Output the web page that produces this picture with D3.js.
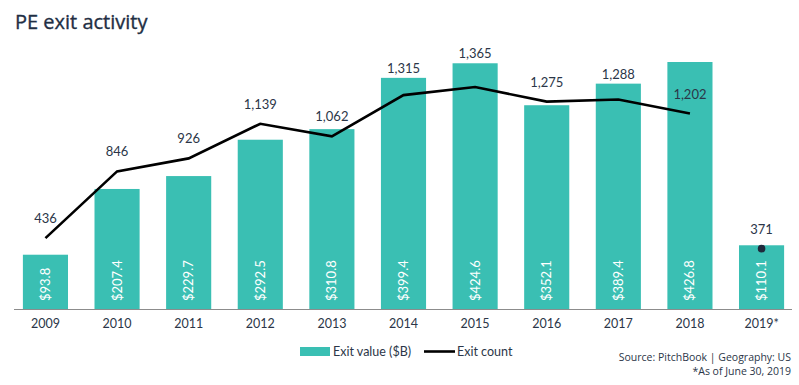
<!doctype html>
<html lang="en">
<head>
    <meta charset="utf-8">
    <title>PE exit activity</title>
    <style>
        body { margin: 0; background: #fff; }
        svg { display: block; }
        text { font-family: Lato, "Open Sans", sans-serif; fill: #2b3648; }
        .title { font-family: "Open Sans", sans-serif; font-size: 20px; font-weight: 400; fill: #1f2f44; stroke: #1f2f44; stroke-width: 0.35px; }
    </style>
</head>
<body>
    <div id="chart"></div>
    <script src="https://d3js.org/d3.v7.min.js"></script>
    <script>
        var years = ["2009", "2010", "2011", "2012", "2013", "2014", "2015", "2016", "2017", "2018", "2019*"]
        var exitValue = [93.8, 207.4, 229.7, 292.5, 310.8, 399.4, 424.6, 352.1, 389.4, 426.8, 110.1]
        var exitCount = [436, 846, 926, 1139, 1062, 1315, 1365, 1275, 1288, 1202, 371]

        var width = 799
        var height = 385
        var baseY = 309

        var svg = d3.select("#chart").append("svg")
            .attr("width", width)
            .attr("height", height)

        svg.append("text")
            .attr("class", "title")
            .attr("x", 15)
            .attr("y", 29)
            .text("PE exit activity")

        var x = d3.scaleBand()
            .domain(years)
            .range([10, 797])
            .paddingInner(0.37)
            .paddingOuter(0.18)

        var yVal = d3.scaleLinear().domain([0, 426.8]).range([baseY, 62])
        var yCnt = d3.scaleLinear().domain([0, 1202]).range([baseY, 113.5])

        var teal = "#3abfb3"

        // bars
        svg.selectAll("rect.bar")
            .data(years)
            .enter()
            .append("rect")
            .attr("class", "bar")
            .attr("x", function(d) { return x(d) })
            .attr("width", x.bandwidth())
            .attr("y", function(d, i) { return yVal(exitValue[i]) })
            .attr("height", function(d, i) { return baseY - yVal(exitValue[i]) })
            .attr("fill", teal)

        // value labels inside bars
        svg.selectAll("text.val")
            .data(years)
            .enter()
            .append("text")
            .attr("class", "val")
            .attr("transform", function(d) {
                return "translate(" + (x(d) + x.bandwidth() / 2 + 4.5) + "," + (baseY - 8) + ") rotate(-90)"
            })
            .style("fill", "#fff")
            .style("font-size", "13px")
            .text(function(d, i) { return "$" + exitValue[i].toFixed(1) })

        // axis
        var axis = svg.append("g")
            .attr("transform", "translate(0," + baseY + ")")
            .call(d3.axisBottom(x).tickSize(0).tickPadding(10))
        axis.select(".domain").attr("stroke", "#8c8c8c").attr("d", "M14,0.5H792")
        axis.selectAll("text").style("font-size", "12.5px").style("font-family", "Lato, sans-serif").attr("fill", "#2b3648")

        // count line (full years only)
        var cx = function(i) { return x(years[i]) + x.bandwidth() / 2 }
        var line = d3.line()
            .x(function(d, i) { return cx(i) })
            .y(function(d) { return yCnt(d) })

        svg.append("path")
            .datum(exitCount.slice(0, 10))
            .attr("d", line)
            .attr("fill", "none")
            .attr("stroke", "#000")
            .attr("stroke-width", 2.6)

        svg.append("circle")
            .attr("cx", cx(10))
            .attr("cy", yCnt(exitCount[10]))
            .attr("r", 3.8)
            .attr("fill", "#1f2a3c")

        // count labels: above the point, or just above the bar when it sits close over the point
        svg.selectAll("text.cnt")
            .data(exitCount)
            .enter()
            .append("text")
            .attr("class", "cnt")
            .attr("x", function(d, i) { return cx(i) })
            .attr("y", function(d, i) {
                var p = yCnt(d)
                var top = yVal(exitValue[i])
                var gap = p - top
                if (gap > 10 && gap < 30) return top - 5
                return p - 15
            })
            .attr("text-anchor", "middle")
            .style("font-size", "13px")
            .text(function(d) { return d3.format(",")(d) })

        // legend
        var lg = svg.append("g")
        lg.append("rect").attr("x", 300).attr("y", 347).attr("width", 30).attr("height", 9).attr("fill", teal)
        lg.append("text").attr("x", 333).attr("y", 356).style("font-size", "12.5px").text("Exit value ($B)")
        lg.append("line").attr("x1", 424).attr("x2", 455).attr("y1", 351.5).attr("y2", 351.5)
            .attr("stroke", "#000").attr("stroke-width", 2.6)
        lg.append("text").attr("x", 457).attr("y", 356).style("font-size", "12.5px").text("Exit count")

        // source
        svg.append("text").attr("x", 791).attr("y", 361).attr("text-anchor", "end")
            .style("font-family", "'Open Sans', sans-serif").style("font-size", "10.5px")
            .text("Source: PitchBook | Geography: US")
        svg.append("text").attr("x", 791).attr("y", 375).attr("text-anchor", "end")
            .style("font-family", "'Open Sans', sans-serif").style("font-size", "10.5px")
            .text("*As of June 30, 2019")
    </script>
</body>
</html>
